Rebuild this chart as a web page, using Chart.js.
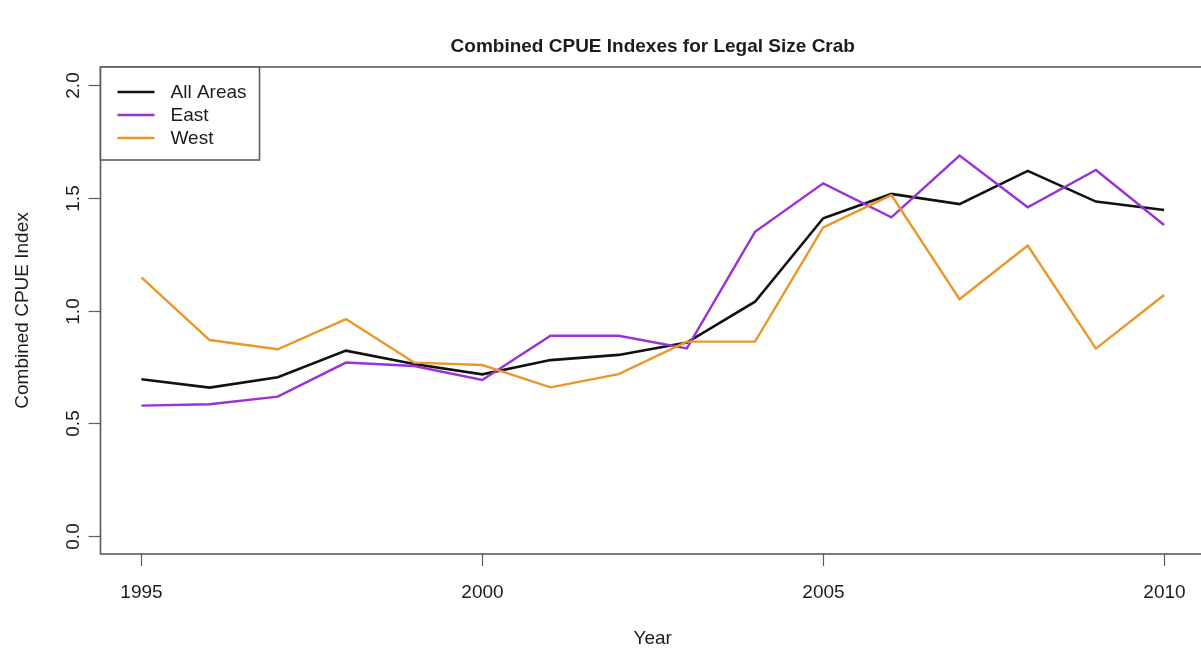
<!DOCTYPE html>
<html>
<head>
<meta charset="utf-8">
<title>Combined CPUE Indexes for Legal Size Crab</title>
<script src="https://cdn.jsdelivr.net/npm/chart.js@4.4.1/dist/chart.umd.min.js"></script>
<style>
  html, body { margin: 0; padding: 0; background: #fff; overflow: hidden; }
  #wrap { width: 1210px; height: 651px; }
</style>
</head>
<body>
<div id="wrap"><canvas id="c" width="1210" height="651"></canvas></div>
<script>
// Survey years and the combined CPUE index for each area
const years = [1995, 1996, 1997, 1998, 1999, 2000, 2001, 2002, 2003, 2004, 2005, 2006, 2007, 2008, 2009, 2010];
const allAreas = [0.695, 0.658, 0.704, 0.822, 0.763, 0.717, 0.780, 0.803, 0.858, 1.039, 1.409, 1.517, 1.472, 1.619, 1.483, 1.446];
const east     = [0.578, 0.584, 0.618, 0.769, 0.754, 0.692, 0.888, 0.888, 0.832, 1.349, 1.564, 1.413, 1.687, 1.458, 1.623, 1.379];
const west     = [1.147, 0.869, 0.828, 0.962, 0.769, 0.758, 0.659, 0.718, 0.862, 0.862, 1.369, 1.512, 1.050, 1.288, 0.831, 1.069];

const seriesNames = ['All Areas', 'East', 'West'];
const xTicks = [1995, 2000, 2005, 2010];
const yTicks = [0.0, 0.5, 1.0, 1.5, 2.0];

const titleText = 'Combined CPUE Indexes for Legal Size Crab';
const xTitle = 'Year';
const yTitle = 'Combined CPUE Index';

const FONT = '"Liberation Sans", Arial, sans-serif';
const TEXT = '#1c1c1c';
const FRAME = '#5a5a5a';

function points(vals) { return years.map((yr, i) => ({ x: yr, y: vals[i] })); }

// Frame, tick marks, tick labels, titles and legend in base-graphics style
const baseGraphics = {
  id: 'baseGraphics',
  afterDraw(chart) {
    const ctx = chart.ctx;
    const a = chart.chartArea;
    const xs = chart.scales.x, ys = chart.scales.y;
    ctx.save();

    // plot frame
    ctx.strokeStyle = FRAME;
    ctx.lineWidth = 1.6;
    ctx.strokeRect(a.left, a.top, a.right - a.left, a.bottom - a.top);

    // x axis ticks and labels
    ctx.fillStyle = TEXT;
    ctx.font = '19px ' + FONT;
    ctx.textAlign = 'center';
    ctx.textBaseline = 'middle';
    ctx.lineWidth = 1.2;
    xTicks.forEach(v => {
      const px = Math.round(xs.getPixelForValue(v)) + 0.5;
      ctx.beginPath();
      ctx.moveTo(px, a.bottom);
      ctx.lineTo(px, a.bottom + 12);
      ctx.stroke();
      ctx.fillText(String(v), px, a.bottom + 39);
    });

    // y axis ticks and rotated labels
    yTicks.forEach(v => {
      const py = Math.round(ys.getPixelForValue(v)) + 0.5;
      ctx.beginPath();
      ctx.moveTo(a.left, py);
      ctx.lineTo(a.left - 12, py);
      ctx.stroke();
      ctx.save();
      ctx.translate(a.left - 27, py);
      ctx.rotate(-Math.PI / 2);
      ctx.fillText(v.toFixed(1), 0, 0);
      ctx.restore();
    });

    // axis titles
    ctx.fillText(xTitle, (a.left + a.right) / 2, a.bottom + 85);
    ctx.save();
    ctx.translate(23, (a.top + a.bottom) / 2);
    ctx.rotate(-Math.PI / 2);
    ctx.fillText(yTitle, 0, 0);
    ctx.restore();

    // main title
    ctx.font = 'bold 19px ' + FONT;
    ctx.fillText(titleText, (a.left + a.right) / 2, 47);

    // legend box in the top-left corner of the plot
    const lw = 159, lh = 93;
    ctx.fillStyle = '#fff';
    ctx.fillRect(a.left, a.top, lw, lh);
    ctx.strokeStyle = FRAME;
    ctx.lineWidth = 1.6;
    ctx.strokeRect(a.left, a.top, lw, lh);
    ctx.font = '19px ' + FONT;
    ctx.textAlign = 'left';
    chart.data.datasets.forEach((ds, i) => {
      const ry = a.top + 25 + i * 23;
      ctx.strokeStyle = ds.borderColor;
      ctx.lineWidth = ds.borderWidth;
      ctx.beginPath();
      ctx.moveTo(a.left + 17, ry);
      ctx.lineTo(a.left + 54, ry);
      ctx.stroke();
      ctx.fillStyle = TEXT;
      ctx.fillText(ds.label, a.left + 70, ry + 1);
    });

    ctx.restore();
  }
};

new Chart(document.getElementById('c'), {
  type: 'line',
  data: {
    datasets: [
      { label: seriesNames[0], data: points(allAreas), borderColor: '#111111', borderWidth: 2.6, order: 3 },
      { label: seriesNames[1], data: points(east),     borderColor: '#9a32d6', borderWidth: 2.4, order: 2 },
      { label: seriesNames[2], data: points(west),     borderColor: '#ec9626', borderWidth: 2.4, order: 1 }
    ]
  },
  options: {
    responsive: false,
    animation: false,
    devicePixelRatio: 1,
    layout: { padding: { left: 100.5, top: 67, right: 5, bottom: 97 } },
    elements: {
      line: { tension: 0, fill: false, borderJoinStyle: 'miter' },
      point: { radius: 0, hoverRadius: 0 }
    },
    scales: {
      x: { type: 'linear', min: 1994.4, max: 2010.6, display: false },
      y: { type: 'linear', min: -0.08, max: 2.08, display: false }
    },
    plugins: {
      legend: { display: false },
      title: { display: false },
      tooltip: { enabled: false }
    }
  },
  plugins: [baseGraphics]
});
</script>
</body>
</html>
